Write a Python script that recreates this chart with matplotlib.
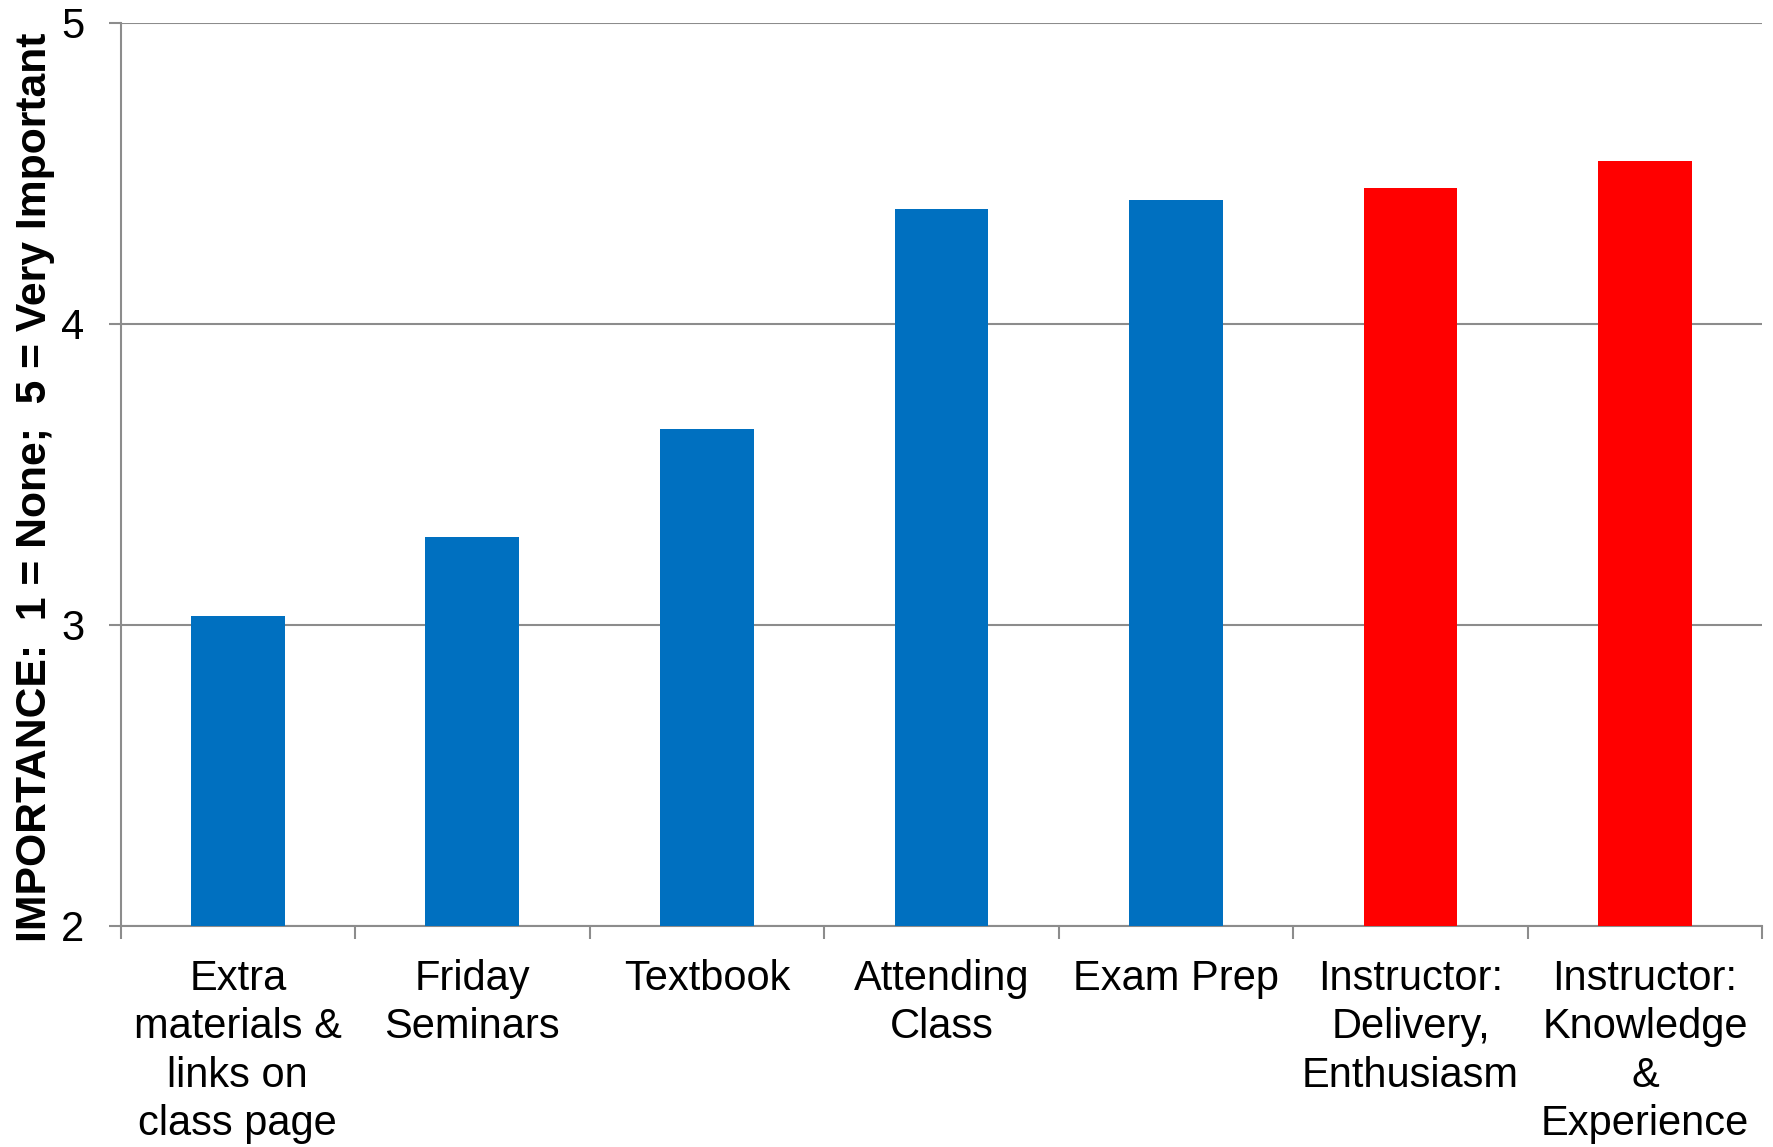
import matplotlib.pyplot as plt
import numpy as np

plt.rcParams['font.family'] = ['Liberation Sans', 'DejaVu Sans']

categories = ['Extra\nmaterials &\nlinks on\nclass page', 'Friday\nSeminars', 'Textbook',
              'Attending\nClass', 'Exam Prep', 'Instructor:\nDelivery,\nEnthusiasm',
              'Instructor:\nKnowledge\n&\nExperience']
values = [3.03, 3.29, 3.65, 4.38, 4.41, 4.45, 4.54]
colors = ['#0070C0'] * 5 + ['#FF0000'] * 2
yticks = [2, 3, 4, 5]

grid_c = '#8C8C8C'

fig = plt.figure(figsize=(17.73, 11.47), dpi=100)
ax = fig.add_axes([0.068, 0.193, 0.926, 0.787])

x = np.arange(len(categories))
ax.bar(x, np.array(values) - 2, bottom=2, width=0.4, color=colors, zorder=3)

ax.set_xlim(-0.5, len(categories) - 0.5)
ax.set_ylim(2, 5)
ax.set_yticks(yticks)
ax.set_yticklabels([str(t) for t in yticks], fontsize=30)
ax.yaxis.grid(True, color=grid_c, linewidth=1.5, zorder=0)
ax.tick_params(axis='y', length=9, width=1.5, color=grid_c, pad=17)

ax.set_xticks(x)
ax.set_xticklabels(categories, fontsize=30, linespacing=1.27, va='top')
ax.set_xticks(np.arange(-0.5, len(categories)), minor=True)
ax.tick_params(axis='x', which='major', length=0, pad=24)
ax.tick_params(axis='x', which='minor', length=9, width=1.5, color=grid_c)

for s in ['top', 'right']:
    ax.spines[s].set_visible(False)
for s in ['left', 'bottom']:
    ax.spines[s].set_color(grid_c)
    ax.spines[s].set_linewidth(1.5)

fig.text(0.020, 0.575, 'IMPORTANCE:  1 = None;  5 = Very Important', rotation=90,
         ha='center', va='center', fontsize=30.7, fontweight='bold')

fig.savefig('out.png', dpi=100)
